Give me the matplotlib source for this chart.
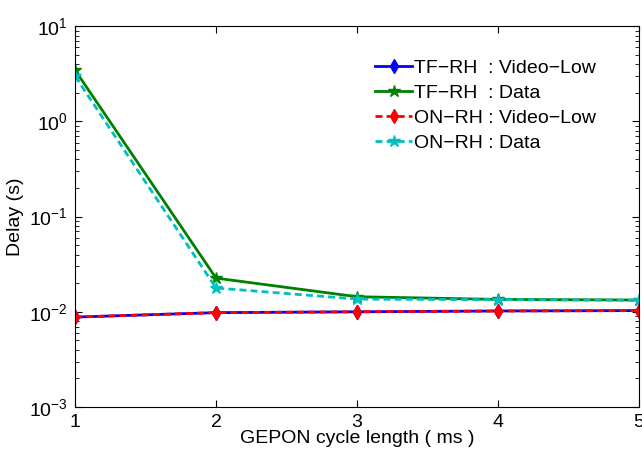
import numpy as np
import matplotlib
matplotlib.use('Agg')
import matplotlib.pyplot as plt
from matplotlib.ticker import LogLocator, NullFormatter

plt.rcParams['font.family'] = ['Liberation Sans', 'DejaVu Sans']
plt.rcParams['mathtext.fontset'] = 'custom'
plt.rcParams['mathtext.rm'] = 'Liberation Sans'
plt.rcParams['font.size'] = 12

# data
cycle = [1, 2, 3, 4, 5]
tf_video = [0.0088, 0.0098, 0.0100, 0.0102, 0.0103]
tf_data = [3.45, 0.0226, 0.0144, 0.0135, 0.0133]
on_video = [0.0088, 0.0098, 0.0100, 0.0102, 0.0103]
on_data = [2.98, 0.0178, 0.0136, 0.0134, 0.0132]

fig = plt.figure(figsize=(6.42, 4.5), dpi=100)
ax = fig.add_axes([0.117, 0.0956, 0.878, 0.846])

ax.plot(cycle, tf_video, color='#0000ff', lw=2, marker='d', ms=7, label='TF\u2212RH  : Video\u2212Low')
ax.plot(cycle, tf_data, color='#008000', lw=2, marker='*', ms=9, label='TF\u2212RH  : Data')
ax.plot(cycle, on_video, color='#ff0000', lw=2, ls='--', dashes=(2.5, 1.5), marker='d', ms=7,
        label='ON\u2212RH : Video\u2212Low')
ax.plot(cycle, on_data, color='#00bfbf', lw=2, ls='--', dashes=(2.5, 1.5), marker='*', ms=9,
        label='ON\u2212RH : Data')

ax.set_yscale('log')
ax.set_xlim(1, 5)
ax.set_ylim(1e-3, 1e1)
ax.set_xticks(cycle)
ax.yaxis.set_major_locator(LogLocator(base=10, numticks=10))
ax.yaxis.set_minor_locator(LogLocator(base=10, subs=np.arange(2, 10), numticks=10))
ax.yaxis.set_minor_formatter(NullFormatter())
ax.tick_params(which='both', direction='in', top=True, right=True, labelsize=14)
ax.tick_params(which='major', length=5, pad=5)
ax.tick_params(which='minor', length=3)

ax.set_xlabel('GEPON cycle length ( ms )', fontsize=14, labelpad=-1)
ax.set_ylabel('Delay (s)', fontsize=14, labelpad=4)

ax.legend(loc='upper right', bbox_to_anchor=(0.955, 0.96), frameon=False, fontsize=14,
          handlelength=1.9, handletextpad=0.1, labelspacing=0.38)

fig.savefig('out.png', dpi=100)
